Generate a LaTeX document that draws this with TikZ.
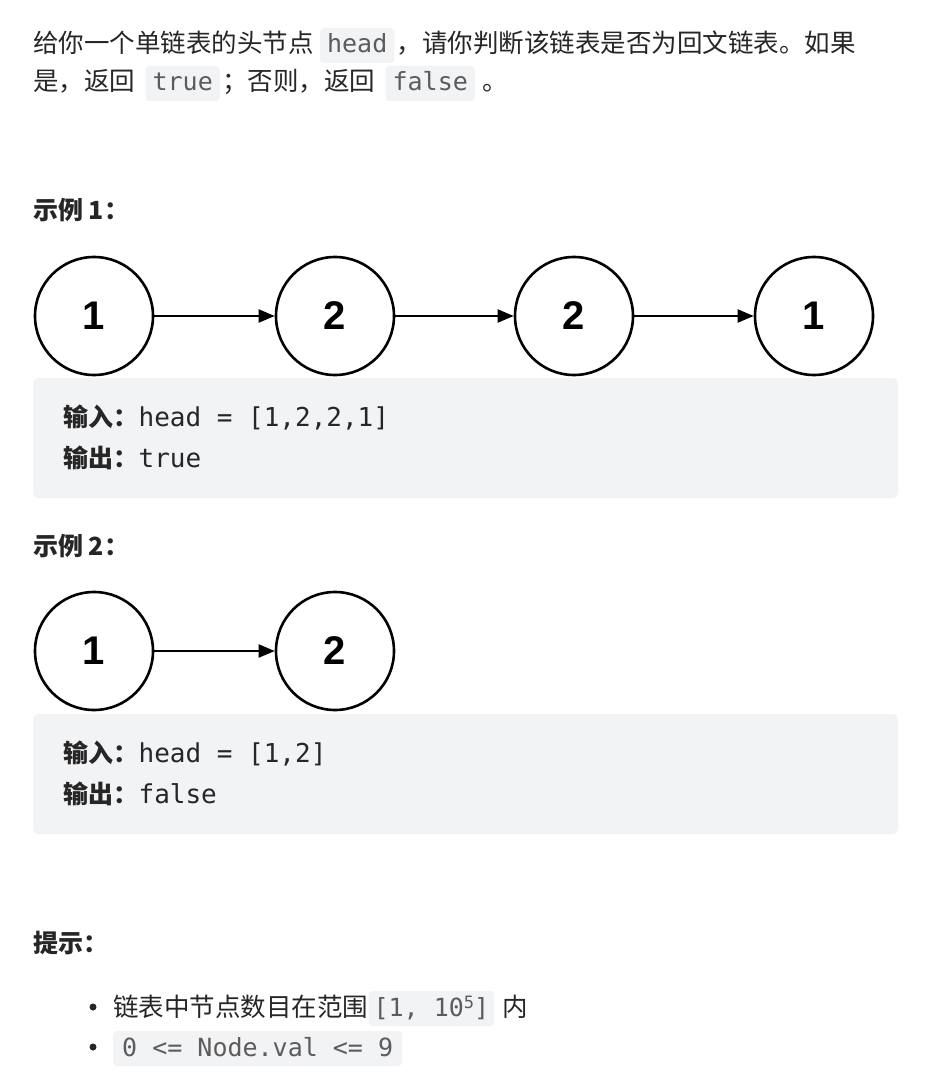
\documentclass[tikz,border=0pt]{standalone}
\usepackage{fontspec}
\setmainfont{Noto Sans CJK SC}
\setmonofont{DejaVu Sans Mono}
\newfontfamily\numf{Liberation Sans}
\usetikzlibrary{arrows.meta}
\definecolor{txt}{HTML}{262626}
\definecolor{codebg}{HTML}{F2F3F5}
\definecolor{codetxt}{HTML}{5C5C5C}
\tikzset{
 t/.style={inner sep=0pt,anchor=base west,text=txt,font=\fontsize{25.5}{28}\selectfont},
 tb/.style={t,font=\fontsize{25}{28}\selectfont\bfseries},
 ic/.style={inner xsep=7pt,inner ysep=0pt,anchor=base west,fill=codebg,rounded corners=4pt,text=codetxt,
   font=\fontsize{25}{28}\ttfamily,text height=25pt,text depth=10pt},
 cb/.style={fill=codebg,rounded corners=5pt,draw=none},
 codeline/.style={inner sep=0pt,anchor=base west,text=txt,font=\fontsize{26}{28}\ttfamily},
 ln/.style={circle,draw=black,line width=2.6pt,minimum size=118pt,inner sep=0pt,font=\fontsize{40}{40}\numf\bfseries},
 ar/.style={line width=2pt,-{Triangle[length=16pt,width=13pt]}}
}
\begin{document}
\begin{tikzpicture}[x=1pt,y=-1pt]
\useasboundingbox[fill=white] (0,0) rectangle (934,1086);
% paragraph
\node[t] (p1) at (33,53) {给你一个单链表的头节点};
\node[ic,xshift=6pt] (c1) at (p1.base east) {head};
\node[t,xshift=2pt] (p2) at (c1.base east) {，请你判断该链表是否为回文链表。如果};
\node[t] (p3) at (33,91) {是，返回};
\node[ic,xshift=10pt] (c2) at (p3.base east) {true};
\node[t,xshift=2pt] (p4) at (c2.base east) {；否则，返回};
\node[ic,xshift=10pt] (c3) at (p4.base east) {false};
\node[t,xshift=2pt] (p5) at (c3.base east) {~。};
% example 1
\node[tb] (e1) at (33,219) {示例 1：};
\node[ln] (a1) at (94,316) {1};
\node[ln] (a2) at (335,316) {2};
\node[ln] (a3) at (574,316) {2};
\node[ln] (a4) at (814,316) {1};
\draw[ar] (a1) -- (a2);
\draw[ar] (a2) -- (a3);
\draw[ar] (a3) -- (a4);
\path[cb] (33,378) rectangle (898,498);
\node[tb] (i1) at (63,426) {输入：};
\node[codeline] (i1c) at (i1.base east) {head = [1,2,2,1]};
\node[tb] (o1) at (63,467) {输出：};
\node[codeline] (o1c) at (o1.base east) {true};
% example 2
\node[tb] (e2) at (33,555) {示例 2：};
\node[ln] (b1) at (94,651) {1};
\node[ln] (b2) at (335,651) {2};
\draw[ar] (b1) -- (b2);
\path[cb] (33,714) rectangle (898,834);
\node[tb] (i2) at (63,762) {输入：};
\node[codeline] (i2c) at (i2.base east) {head = [1,2]};
\node[tb] (o2) at (63,803) {输出：};
\node[codeline] (o2c) at (o2.base east) {false};
% hints
\node[tb] (h) at (33,952) {提示：};
\fill[txt] (93,1007) circle (3.5pt);
\fill[txt] (93,1047) circle (3.5pt);
\node[t] (l1) at (113,1016) {链表中节点数目在范围};
\node[ic,inner xsep=5pt] (l1c) at (l1.base east) {[1, 10\raisebox{8pt}{\fontsize{17}{17}\selectfont 5}]};
\node[t,xshift=8pt] (l1e) at (l1c.base east) {内};
\node[ic,inner xsep=9pt] (l2c) at (113,1056) {0 <= Node.val <= 9};
\end{tikzpicture}
\end{document}
